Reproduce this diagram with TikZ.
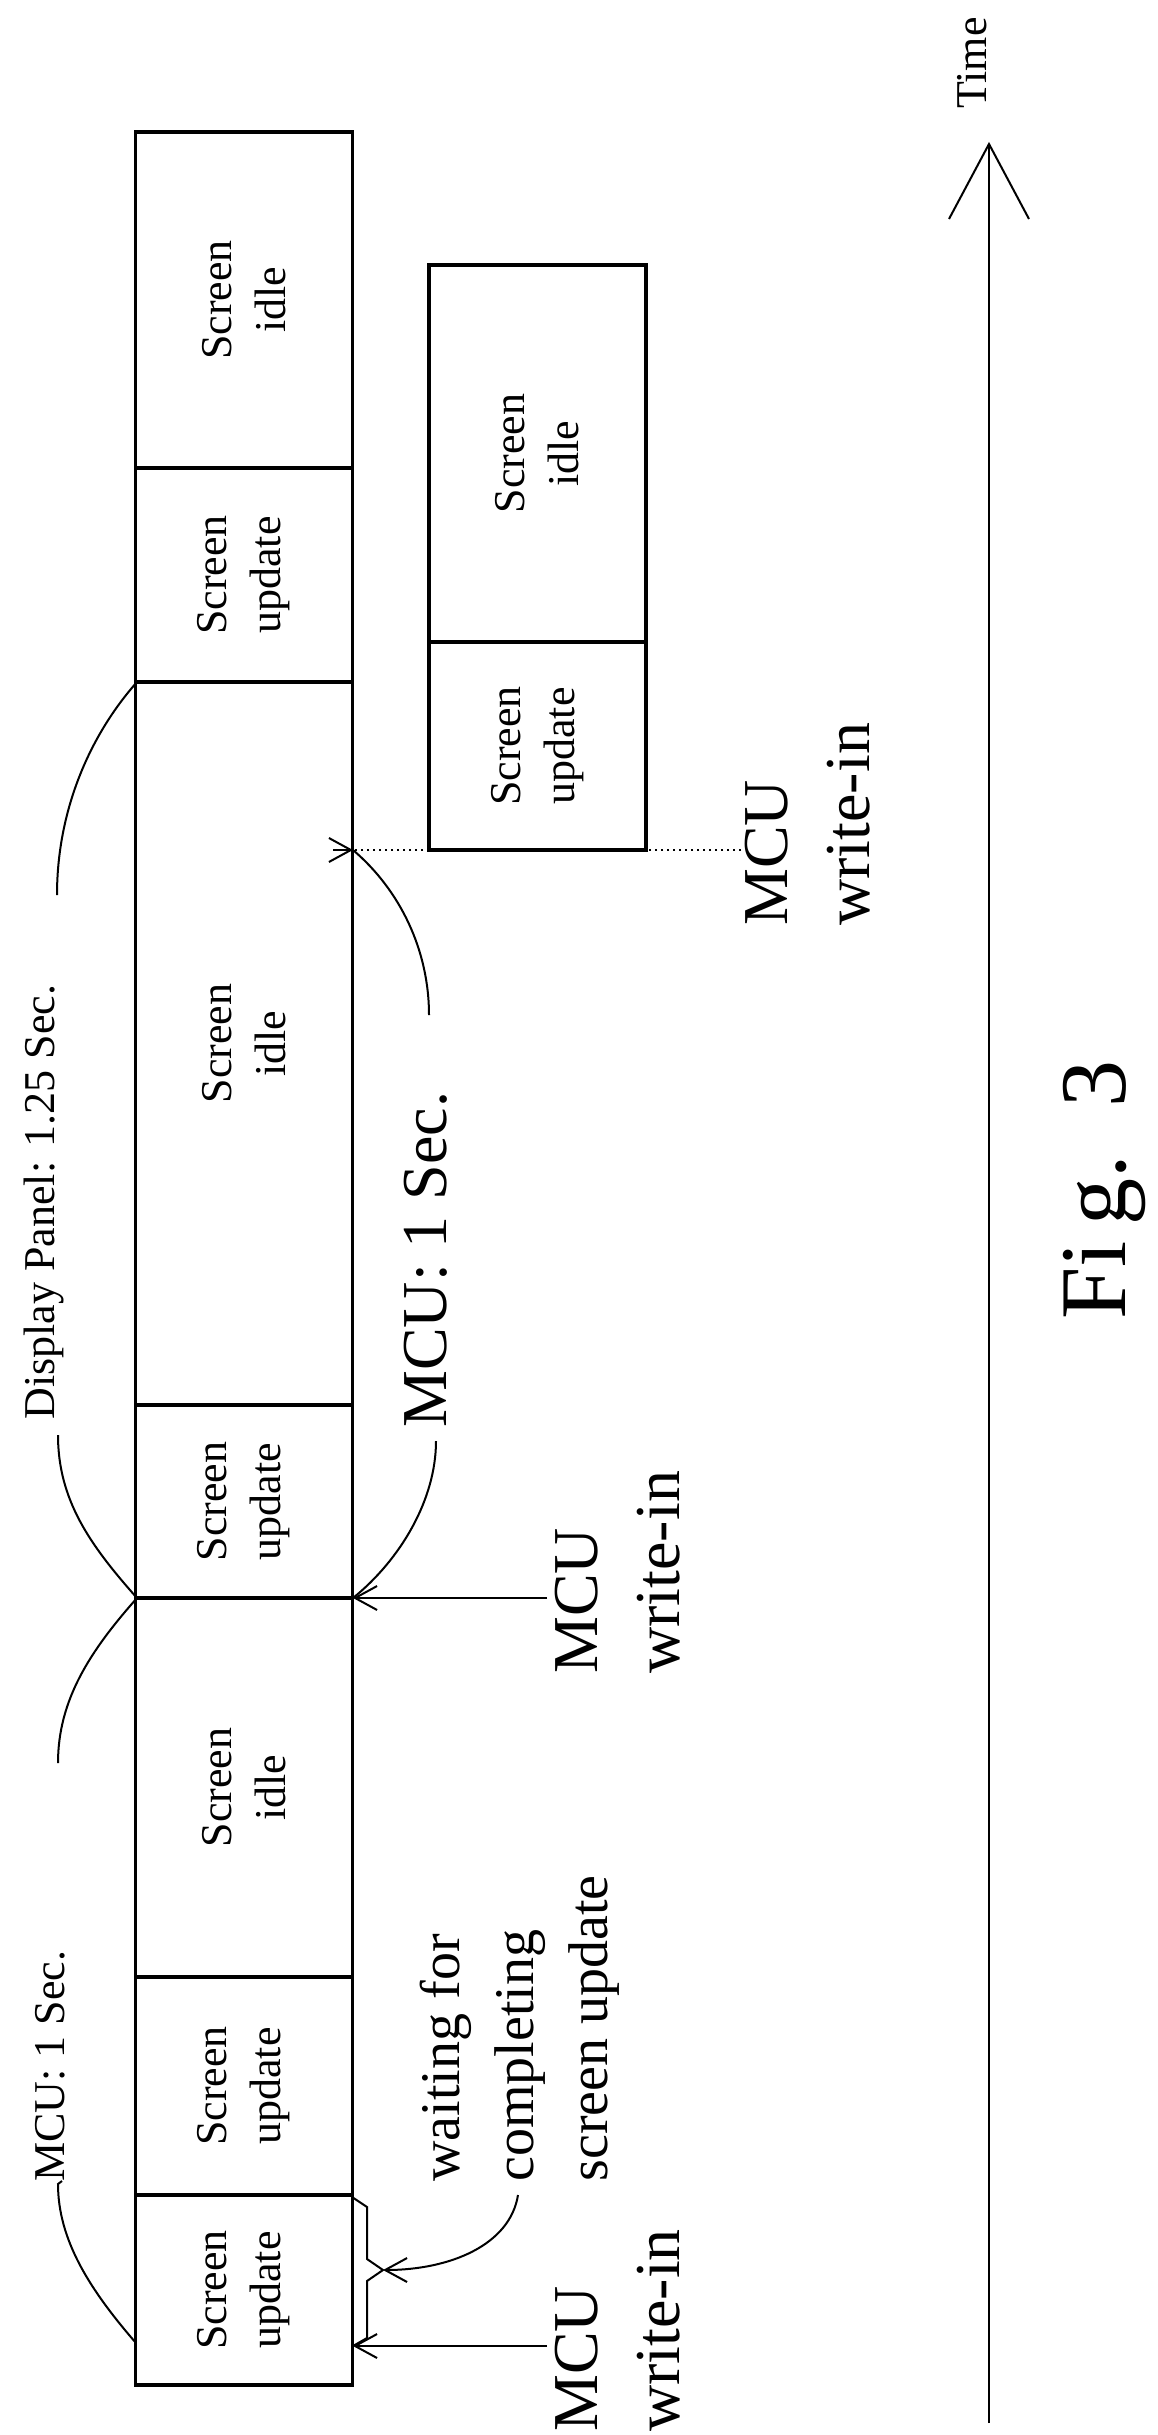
\documentclass[tikz,border=0pt]{standalone}
\usepackage{fontspec}
\setmainfont{Liberation Serif}
\usetikzlibrary{arrows.meta}
\begin{document}
\begin{tikzpicture}[x=0.5pt,y=-0.5pt,
  seg/.style={draw,line width=1.6pt,rotate=90,minimum height=108.5pt,inner sep=0pt,align=center,
     font=\fontsize{22}{27}\selectfont},
  lbl/.style={rotate=90,anchor=west,align=left,inner sep=0pt},
  thin/.style={line width=1pt},
  arr/.style={thin,-{Straight Barb[length=11pt,width=12pt,line width=1pt]}},
  big/.style={font=\fontsize{32}{41}\selectfont},
  mid/.style={font=\fontsize{28}{37}\selectfont},
  small/.style={font=\fontsize{22}{27}\selectfont}]
\useasboundingbox (0,0) rectangle (1157,2435);
% main bar
\node[seg,minimum width=168pt] (s1) at (244,300) {Screen\\idle};
\node[seg,minimum width=107pt] (s2) at (244,575) {Screen\\update};
\node[seg,minimum width=361.5pt] (s3) at (244,1043.5) {Screen\\idle};
\node[seg,minimum width=96.5pt] (s4) at (244,1501.5) {Screen\\update};
\node[seg,minimum width=189.5pt] (s5) at (244,1787.5) {Screen\\idle};
\node[seg,minimum width=109pt] (s6) at (244,2086) {Screen\\update};
\node[seg,minimum width=95pt] (s7) at (244,2290) {Screen\\update};
% small bar
\node[seg,minimum width=188.5pt] (t1) at (537.5,453.5) {Screen\\idle};
\node[seg,minimum width=104pt] (t2) at (537.5,746) {Screen\\update};
% time axis
\coordinate (ta) at (989,2423);
\coordinate (tb) at (989,144);
\coordinate (tl) at (949,219);
\coordinate (tr) at (1029,219);
\draw[thin] (ta) -- (tb);
\draw[thin] (tl) -- (tb) -- (tr);
\node[lbl,small] (time) at (972,109) {Time};
% MCU write-in labels and arrows
\node[lbl,big] (w1) at (618,2432) {MCU\\write-in};
\node[lbl,big] (w2) at (618,1674) {MCU\\write-in};
\node[lbl,big] (w3) at (808,926) {MCU\\write-in};
\coordinate (a1s) at (547,2346);
\coordinate (a1e) at (353,2346);
\coordinate (a2s) at (547,1598);
\coordinate (a2e) at (353,1598);
\coordinate (a3s) at (741,850);
\coordinate (a3e) at (353,850);
\draw[arr] (a1s) -- (a1e);
\draw[arr] (a2s) -- (a2e);
\draw[thin,dotted] (a3s) -- (a3e);
\draw[thin,-{Straight Barb[length=11pt,width=12pt,line width=1pt]}] ([xshift=-10pt]a3e) -- (a3e);
% brace
\coordinate (b0) at (352,2197);
\coordinate (b1) at (367,2207);
\coordinate (b2) at (367,2259);
\coordinate (bt) at (383,2270);
\coordinate (b3) at (367,2281);
\coordinate (b4) at (367,2338);
\draw[thin] (b0) -- (b1) -- (b2) -- (bt) -- (b3) -- (b4) -- (a1e);
% waiting
\node[lbl,mid] (wt) at (520,2182) {waiting for\\completing\\screen update};
\coordinate (wc) at (518,2195);
\draw[arr] (wc) .. controls (510,2245) and (450,2270) .. (bt);
% MCU 1 sec big
\node[lbl,big] (m1) at (426,1428) {MCU: 1 Sec.};
\coordinate (m1a) at (436,1441);
\coordinate (m1b) at (429,1015);
\draw[thin] (a2e) .. controls (400,1560) and (436,1500) .. (m1a);
\draw[thin] (a3e) .. controls (400,890) and (429,950) .. (m1b);
% Display panel
\node[lbl,small] (dp) at (44,1420) {Display Panel: 1.25 Sec.};
\coordinate (d0) at (137,1598);
\coordinate (d1) at (58,1435);
\coordinate (d2) at (58,1763);
\coordinate (d3) at (137,682);
\coordinate (d4) at (57,895);
\draw[thin] (d0) .. controls (90,1545) and (58,1500) .. (d1);
\draw[thin] (d0) .. controls (90,1651) and (58,1700) .. (d2);
\draw[thin] (d3) .. controls (90,735) and (57,810) .. (d4);
% MCU 1 sec small
\node[lbl,small] (m2) at (50,2182) {MCU: 1 Sec.};
\coordinate (c0) at (136,2343);
\coordinate (c1) at (58,2184);
\draw[thin] (c0) .. controls (90,2290) and (58,2240) .. (c1) -- (62,2181);
% Fig
\node[rotate=90,font=\fontsize{47}{50}\selectfont,inner sep=0pt] (fig) at (1105,1190) {Fi\,g.\ \ 3};
\end{tikzpicture}
\end{document}
